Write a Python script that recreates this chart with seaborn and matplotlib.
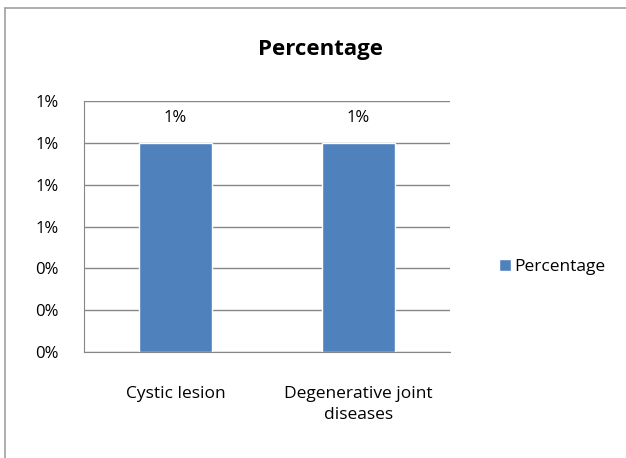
import matplotlib
matplotlib.use('Agg')
import matplotlib.pyplot as plt
from matplotlib.lines import Line2D
import seaborn as sns
import pandas as pd
from matplotlib.ticker import FuncFormatter, FixedLocator

# datos del grafico
categories = ['Cystic lesion', 'Degenerative joint\ndiseases']
values = [1.0, 1.0]          # porcentaje
bar_labels = ['1%', '1%']
series_name = 'Percentage'
yticks = [0, 0.2, 0.4, 0.6, 0.8, 1.0, 1.2]

df = pd.DataFrame({'cat': categories, 'val': values})

sns.set_style('white')
plt.rcParams['font.family'] = ['Open Sans', 'DejaVu Sans']
plt.rcParams['text.color'] = '#000000'

fig = plt.figure(figsize=(6.26, 4.58), dpi=100)
ax = fig.add_axes([0.134, 0.231, 0.585, 0.5485])

# marco exterior (solo arriba e izquierda son visibles)
x0, y0 = 5 / 626, 1 - 8 / 458
fig.add_artist(Line2D([x0, 1.0], [y0, y0], transform=fig.transFigure,
                      color='#a0a0a0', linewidth=1.2))
fig.add_artist(Line2D([x0, x0], [0.0, y0], transform=fig.transFigure,
                      color='#a0a0a0', linewidth=1.2))

sns.barplot(data=df, x='cat', y='val', color='#4F81BD', saturation=1,
            width=0.4, ax=ax)
ax.bar_label(ax.containers[0], labels=bar_labels, padding=12, fontsize=12)

ax.set_ylim(0, 1.2)
ax.set_xlim(-0.5, 1.5)
ax.set_yticks(yticks)
ax.yaxis.set_major_formatter(FuncFormatter(lambda v, p: f'{v:.0f}%'))
ax.grid(axis='y', color='#868686', linewidth=1)
ax.set_axisbelow(True)
for s in ['top', 'right']:
    ax.spines[s].set_visible(False)
for s in ['left', 'bottom']:
    ax.spines[s].set_color('#868686')
ax.tick_params(axis='y', length=6, color='#868686', labelsize=12, pad=12,
               labelcolor='black')
ax.tick_params(axis='x', which='major', length=0, labelsize=12.5, pad=24,
               labelcolor='black')
for t in ax.get_xticklabels():
    t.set_linespacing(1.45)
ax.xaxis.set_minor_locator(FixedLocator([-0.5, 0.5, 1.5]))
ax.tick_params(axis='x', which='minor', length=6, color='#868686')
ax.set_xlabel('')
ax.set_ylabel('')

fig.text(320 / 626, 1 - 50 / 458, 'Percentage', fontsize=16, fontweight='bold',
         ha='center', va='center')

fig.legend(handles=ax.containers[0][:1], labels=[series_name],
           loc='center left', bbox_to_anchor=(492 / 626, 1 - 267 / 458),
           frameon=False, fontsize=12.5, handlelength=0.7, handleheight=0.7,
           handletextpad=0.2, borderaxespad=0)

fig.savefig('out.png', dpi=100)
